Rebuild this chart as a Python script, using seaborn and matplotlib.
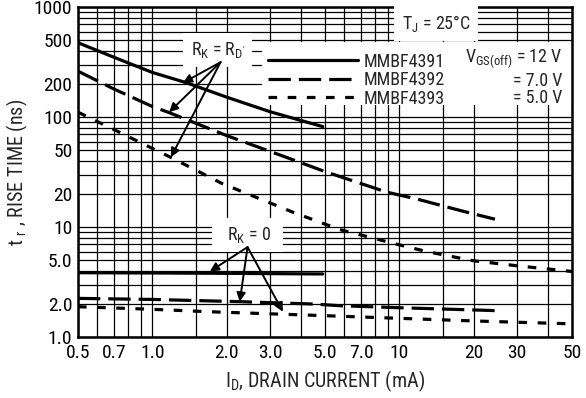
import matplotlib
matplotlib.use("Agg")
import matplotlib.pyplot as plt
import seaborn as sns
import pandas as pd
from matplotlib.lines import Line2D
from matplotlib.patches import Rectangle
from matplotlib.ticker import NullFormatter
from matplotlib import font_manager

# values (drain current in mA, rise time in ns)
current_4391 = [0.5, 0.7, 1.0, 1.38, 2.0, 3.0, 3.95, 4.9]
rise_4391 = [475, 350, 255, 205, 152, 112, 94, 82]
current_4392 = [0.5, 0.7, 1.0, 1.17, 2.0, 3.6, 5.0, 8.9, 11.8, 18, 24.4]
rise_4392 = [262, 180, 125, 110, 68, 42, 32, 20.8, 18, 14, 11.8]
current_4393 = [0.5, 0.7, 1.0, 1.19, 1.91, 3.7, 5.74, 10, 12.9, 19.9, 30, 47.5, 50]
rise_4393 = [111, 77, 52, 43, 25, 13.7, 9.5, 6.9, 6.0, 4.95, 4.45, 4.0, 3.95]

# R_K = 0 curves
current_4391_rk0 = [0.5, 1.0, 2.0, 4.9]
rise_4391_rk0 = [3.85, 3.83, 3.8, 3.75]
current_4392_rk0 = [0.5, 1.0, 2.26, 4.46, 5.74, 10, 24.8]
rise_4392_rk0 = [2.25, 2.2, 2.1, 2.0, 1.93, 1.85, 1.74]
current_4393_rk0 = [0.5, 1.0, 1.71, 4.46, 20.5, 50]
rise_4393_rk0 = [1.89, 1.79, 1.70, 1.58, 1.40, 1.32]

devices = ["MMBF4391", "MMBF4392", "MMBF4393"]
vgs_labels = [r"V$_{GS(off)}$ = 12 V", "= 7.0 V", "= 5.0 V"]

x_major = [0.5, 0.7, 1.0, 2.0, 3.0, 5.0, 7.0, 10, 20, 30, 50]
x_labels = ["0.5", "0.7", "1.0", "2.0", "3.0", "5.0", "7.0", "10", "20", "30", "50"]
x_minor = [0.6, 0.8, 0.9, 1.5, 4, 6, 8, 9, 15, 40]
y_major = [1, 2, 5, 10, 20, 50, 100, 200, 500, 1000]
y_labels = ["1.0", "2.0", "5.0", "10", "20", "50", "100", "200", "500", "1000"]
y_minor = [3, 4, 6, 7, 8, 9, 30, 40, 60, 70, 80, 90, 300, 400, 600, 700, 800, 900]

series = [
    ("MMBF4391", "rkd", current_4391, rise_4391),
    ("MMBF4392", "rkd", current_4392, rise_4392),
    ("MMBF4393", "rkd", current_4393, rise_4393),
    ("MMBF4391", "rk0", current_4391_rk0, rise_4391_rk0),
    ("MMBF4392", "rk0", current_4392_rk0, rise_4392_rk0),
    ("MMBF4393", "rk0", current_4393_rk0, rise_4393_rk0),
]
rows = []
for dev, branch, xs, ys in series:
    for x, y in zip(xs, ys):
        rows.append({"current": x, "rise": y, "device": dev, "branch": branch})
df = pd.DataFrame(rows)

sns.set_style("white")
names = {f.name for f in font_manager.fontManager.ttflist}
base_font = "Roboto Condensed" if "Roboto Condensed" in names else "Liberation Sans"
plt.rcParams["font.family"] = [base_font, "DejaVu Sans"]
plt.rcParams["mathtext.default"] = "regular"

dash_map = {"MMBF4391": "", "MMBF4392": (7, 2.5), "MMBF4393": (2.7, 3.3)}
palette = {d: "black" for d in devices}
LW = 2.3
FS = 13      # annotations / legend
FS_TICK = 14
FS_LAB = 14.5

fig = plt.figure(figsize=(5.86, 3.98), dpi=100)
ax = fig.add_axes([0.133, 0.153, 0.843, 0.829])

sns.lineplot(data=df, x="current", y="rise", hue="device", style="device",
             units="branch", estimator=None, palette=palette, dashes=dash_map,
             linewidth=LW, legend=False, ax=ax, zorder=2)

ax.set_xscale("log")
ax.set_yscale("log")
ax.set_xlim(0.5, 50)
ax.set_ylim(1, 1000)

ax.set_xticks(x_major)
ax.set_xticklabels(x_labels)
ax.set_xticks(x_minor, minor=True)
ax.xaxis.set_minor_formatter(NullFormatter())
ax.set_yticks(y_major)
ax.set_yticklabels(y_labels)
ax.set_yticks(y_minor, minor=True)
ax.yaxis.set_minor_formatter(NullFormatter())
ax.tick_params(which="both", length=0, labelsize=FS_TICK, colors="black")
ax.tick_params(axis="x", pad=5)
ax.tick_params(axis="y", pad=4)
ax.grid(which="both", color="black", linewidth=0.9)
ax.set_axisbelow(True)
for s in ax.spines.values():
    s.set_linewidth(1.8)
    s.set_color("black")

ax.set_xlabel(r"I$_{D}$, DRAIN CURRENT (mA)", fontsize=FS_LAB, labelpad=5)
ax.set_ylabel(r"t$_{\ r}$ , RISE TIME (ns)", fontsize=FS_LAB, labelpad=3)

# white block behind the legend
ax.add_patch(Rectangle((0.372, 0.703), 0.628, 0.191, transform=ax.transAxes,
                       facecolor="white", edgecolor="none", zorder=1.5))
handles = [Line2D([], [], color="black", lw=LW, linestyle="-"),
           Line2D([], [], color="black", lw=LW, linestyle=(0, (7, 2.5))),
           Line2D([], [], color="black", lw=LW, linestyle=(0, (2.7, 3.3)))]
ax.legend(handles, devices, loc="upper left", bbox_to_anchor=(0.385, 0.862),
          frameon=False, fontsize=FS, handlelength=4.95, handletextpad=0.33,
          labelspacing=0.03, borderpad=0, borderaxespad=0)
for lab, yy in zip(vgs_labels, [0.834, 0.762, 0.709]):
    ax.text(0.98, yy, lab, transform=ax.transAxes, ha="right", va="baseline",
            fontsize=FS, zorder=5)

box = dict(boxstyle="square,pad=0.4", facecolor="white", edgecolor="none")
ax.text(0.725, 0.952, r"T$_{J}$ = 25°C", transform=ax.transAxes, ha="center",
        va="center", fontsize=FS, bbox=box, zorder=5)
ax.text(1.84, 406, r"R$_{K}$ = R$_{D'}$", ha="center", va="center",
        fontsize=FS, bbox=box, zorder=5)
ax.text(2.43, 8.45, r"  R$_{K}$ = 0  ", ha="center", va="center",
        fontsize=FS, bbox=box, zorder=5)

arrow = dict(arrowstyle="-|>", color="black", lw=1.4, mutation_scale=13,
             shrinkA=0, shrinkB=0)
for tip in [(1.33, 205), (1.17, 111), (1.19, 43.3)]:
    ax.annotate("", xy=tip, xytext=(1.89, 316), arrowprops=arrow, zorder=6)
for tip in [(1.71, 3.95), (2.26, 2.1), (3.38, 1.7)]:
    ax.annotate("", xy=tip, xytext=(2.43, 6.58), arrowprops=arrow, zorder=6)

fig.savefig("out.png", dpi=100)
